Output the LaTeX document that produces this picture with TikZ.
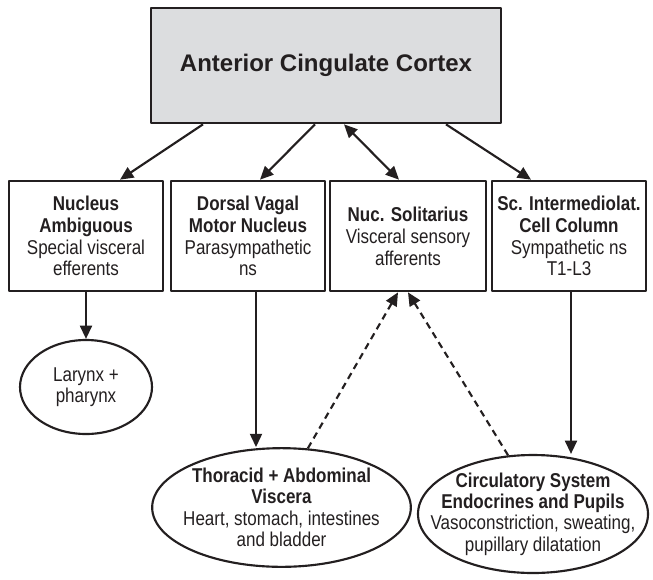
\documentclass[tikz,border=0pt]{standalone}
\usepackage{fontspec}
\setmainfont{Liberation Sans}
\newfontfamily\condfont[FakeStretch=0.85]{Liberation Sans}
\usetikzlibrary{arrows.meta,calc,shapes.geometric}
\definecolor{ink}{HTML}{231F20}
\definecolor{accgray}{HTML}{DCDDDF}
\begin{document}
\begin{tikzpicture}[x=0.75pt, y=-0.75pt, line join=round, color=ink,
		font=\condfont\fontsize{15}{16.4}\selectfont,
		>={Triangle[length=10pt,width=9pt]},
		nucbox/.style={draw, line width=2pt, minimum width=115.5pt, minimum height=82.5pt, inner sep=0pt, align=center},
		organ/.style 2 args={draw, line width=1.6pt, ellipse, inner sep=0pt, minimum width=#1, minimum height=#2},
		orgtext/.style={align=center, font=\condfont\fontsize{15}{16}\selectfont},
		arr/.style={line width=1.6pt},
		feed/.style={arr, dash pattern=on 5pt off 3.6pt}]
		\useasboundingbox (0,0) rectangle (653,579);
		\node[draw, line width=2pt, fill=accgray, minimum width=262.5pt, minimum height=86.25pt,
			font=\rmfamily\bfseries\fontsize{18}{20}\selectfont] (acc) at (326,65.5) {Anterior Cingulate Cortex};
		\node[nucbox] (na) at (86,236) {\textbf{Nucleus}\\\textbf{Ambiguous}\\Special visceral\\efferents};
		\node[nucbox] (dv) at (248,236) {\textbf{Dorsal Vagal}\\\textbf{Motor Nucleus}\\Parasympathetic\\ns};
		\node[nucbox, minimum width=117pt] (ns) at (408,236) {\textbf{Nuc. Solitarius}\\Visceral sensory\\afferents};
		\node[nucbox] (si) at (569,236) {\textbf{Sc. Intermediolat.}\\\textbf{Cell Column}\\Sympathetic ns\\T1-L3};
		\node[organ={99pt}{70.5pt}, label={[orgtext]center:Larynx +\\pharynx}] (lx) at (86,387) {};
		\node[organ={194pt}{89pt}, label={[orgtext]center:\textbf{Thoracid + Abdominal}\\\textbf{Viscera}\\Heart, stomach, intestines\\and bladder}] (th) at (281.5,507.5) {};
		\node[organ={172.5pt}{88.5pt}, label={[orgtext]center:\textbf{Circulatory System}\\\textbf{Endocrines and Pupils}\\Vasoconstriction, sweating,\\pupillary dilatation}] (cs) at (533,514) {};
		\foreach \s/\t/\d in {-123/na/34, -11/dv/12, 120/si/-38}{
			\draw[arr, ->] ($(acc.south)+(\s,0)$) -- ($(\t.north)+(\d,0)$);
		}
		\draw[arr, <->] ($(acc.south)+(18,0)$) -- ($(ns.north)+(-9,0)$);
		\path
			($(dv.south)+(8,0)$) coordinate (dv1)
			($(si.south)+(2,0)$) coordinate (si1)
		;
		\draw[arr, ->] (na.south) -- (lx.north);
		\draw[arr, ->] (dv1) -- (dv1 |- th.north);
		\draw[arr, ->] (si1) -- (si1 |- cs.north);
		\draw[feed, ->] (th.66) -- ($(ns.south)+(-10,0)$);
		\draw[feed, ->] (cs.113) -- (ns.south);
\end{tikzpicture}
\end{document}
